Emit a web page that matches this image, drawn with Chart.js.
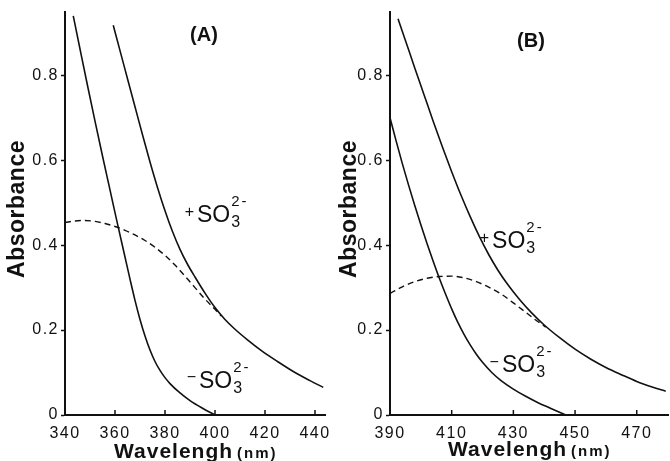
<!DOCTYPE html>
<html lang="en">
<head>
    <meta charset="UTF-8">
    <title>Absorbance spectra (A) and (B)</title>
    <script src="https://cdn.jsdelivr.net/npm/chart.js"></script>
    <style>
        body {
            margin: 0;
            background: #fff;
        }
        #wrap {
            position: relative;
            width: 670px;
            height: 461px;
        }
        canvas {
            position: absolute;
            top: 0;
        }
        #panelA { left: 0; }
        #panelB { left: 335px; }
    </style>
</head>
<body>
<div id="wrap">
    <canvas id="panelA" width="335" height="461"></canvas>
    <canvas id="panelB" width="335" height="461"></canvas>
</div>

<script>
// tick values
const yTicks = [0, 0.2, 0.4, 0.6, 0.8];
const xTicksA = [340, 360, 380, 400, 420, 440];
const xTicksB = [390, 410, 430, 450, 470];

// panel A: -SO3 2-, +SO3 2- and the dashed difference curve
const aMinusWl  = [343.3, 346, 349, 352, 355, 358, 361, 364, 366, 368, 370, 372, 374, 376, 378, 380, 382, 386, 390, 395, 400];
const aMinusAbs = [0.94, 0.862, 0.776, 0.692, 0.61, 0.53, 0.45, 0.372, 0.32, 0.27, 0.225, 0.186, 0.153, 0.126, 0.105, 0.088, 0.074, 0.052, 0.034, 0.016, 0.0];
const aPlusWl   = [359.3, 362, 365, 368, 371, 374, 377, 380, 383, 386, 389, 392, 396, 400, 404, 408, 413, 418.7, 425, 432, 438, 443.3];
const aPlusAbs  = [0.918, 0.858, 0.792, 0.726, 0.66, 0.596, 0.536, 0.481, 0.432, 0.39, 0.355, 0.325, 0.287, 0.253, 0.225, 0.202, 0.177, 0.151, 0.126, 0.1, 0.081, 0.065];
const aDashWl   = [340, 344, 348, 352, 356, 360, 364, 368, 372, 376, 380, 384, 388, 392, 396, 400, 402.5];
const aDashAbs  = [0.453, 0.457, 0.458, 0.456, 0.451, 0.444, 0.435, 0.424, 0.411, 0.395, 0.376, 0.353, 0.327, 0.30, 0.273, 0.249, 0.233];

// panel B
const bMinusWl  = [390, 392, 394, 396, 398, 400, 402, 404, 406, 408, 410, 412, 414, 416, 418, 420, 423, 426, 430, 434, 438, 442, 447];
const bMinusAbs = [0.70, 0.645, 0.592, 0.542, 0.494, 0.448, 0.404, 0.362, 0.322, 0.285, 0.25, 0.218, 0.19, 0.165, 0.143, 0.124, 0.10, 0.081, 0.061, 0.044, 0.029, 0.016, 0.0];
const bPlusWl   = [392.6, 395, 398, 401, 404, 407, 410, 413, 416, 419, 422, 425, 428, 432, 436, 440, 445, 450, 455, 460, 465, 470, 475, 479.4];
const bPlusAbs  = [0.933, 0.882, 0.818, 0.755, 0.692, 0.631, 0.573, 0.518, 0.467, 0.42, 0.378, 0.341, 0.309, 0.272, 0.24, 0.212, 0.182, 0.155, 0.132, 0.112, 0.095, 0.079, 0.066, 0.056];
const bDashWl   = [390, 394, 398, 402, 406, 410, 414, 418, 422, 426, 430, 434, 437, 440.5];
const bDashAbs  = [0.286, 0.302, 0.314, 0.322, 0.326, 0.327, 0.323, 0.314, 0.301, 0.285, 0.264, 0.242, 0.225, 0.207];

const FONT = "'Liberation Sans', Arial, sans-serif";
const INK = '#111';

function pts(xs, ys) {
    return xs.map((x, i) => ({ x: x, y: ys[i] }));
}

function line(xs, ys, dashed) {
    return {
        data: pts(xs, ys),
        borderColor: INK,
        borderWidth: dashed ? 1.4 : 1.6,
        borderDash: dashed ? [6, 4] : [],
        pointRadius: 0,
        fill: false,
        cubicInterpolationMode: 'monotone'
    };
}

// SO3 2- label with sign, subscript and superscript
function drawIon(ctx, sign, px, py) {
    ctx.textAlign = 'left';
    ctx.textBaseline = 'alphabetic';
    ctx.letterSpacing = '0px';
    ctx.font = '23px ' + FONT;
    ctx.fillText('SO', px, py);
    const w = ctx.measureText('SO').width;
    ctx.font = '16px ' + FONT;
    ctx.fillText('3', px + w + 1, py + 5);
    ctx.letterSpacing = '2px';
    ctx.font = '15px ' + FONT;
    ctx.fillText('2-', px + w + 1, py - 16);
    ctx.letterSpacing = '0px';
    ctx.font = '16px ' + FONT;
    ctx.textAlign = 'right';
    ctx.textBaseline = 'middle';
    ctx.fillText(sign, px - 3, py - 10);
}

const panelText = {
    id: 'panelText',
    beforeDraw(chart) {
        chart.ctx.letterSpacing = '1.5px'; // tick labels are widely spaced in the scan
    },
    afterDraw(chart, args, opts) {
        const ctx = chart.ctx;
        const xs = chart.scales.x, ys = chart.scales.y;
        ctx.save();
        ctx.fillStyle = INK;
        ctx.strokeStyle = INK;

        // wavelength ticks point into the plot
        ctx.lineWidth = 1.5;
        xs.ticks.forEach(t => {
            const px = xs.getPixelForValue(t.value);
            ctx.beginPath();
            ctx.moveTo(px, ys.bottom);
            ctx.lineTo(px, ys.bottom - 5);
            ctx.stroke();
        });

        // panel letter
        ctx.letterSpacing = '0px';
        ctx.font = 'bold 20px ' + FONT;
        ctx.textAlign = 'center';
        ctx.textBaseline = 'middle';
        ctx.fillText(opts.letter, opts.letterX, opts.letterY);

        // y title
        ctx.save();
        ctx.translate(opts.yTitleX, 209);
        ctx.rotate(-Math.PI / 2);
        ctx.letterSpacing = '0.5px';
        ctx.font = 'bold 23px ' + FONT;
        ctx.fillText('Absorbance', 0, 0);
        ctx.restore();

        // x title
        ctx.textAlign = 'left';
        ctx.textBaseline = 'alphabetic';
        ctx.letterSpacing = '1px';
        ctx.font = 'bold 21px ' + FONT;
        ctx.fillText('Wavelengh', opts.xTitleX, opts.xTitleY);
        const tw = ctx.measureText('Wavelengh').width;
        ctx.letterSpacing = '2px';
        ctx.font = 'bold 15px ' + FONT;
        ctx.fillText('(nm)', opts.xTitleX + tw + 4, opts.xTitleY);

        opts.ions.forEach(ion => {
            drawIon(ctx, ion.sign, xs.getPixelForValue(ion.x), ys.getPixelForValue(ion.y));
        });
        ctx.restore();
        ctx.letterSpacing = '0px';
    }
};

function makePanel(id, curves, xMin, xMax, xTicks, yWidth, padRight, text) {
    return new Chart(document.getElementById(id), {
        type: 'line',
        data: { datasets: curves },
        options: {
            responsive: false,
            animation: false,
            devicePixelRatio: 1,
            layout: { padding: { left: 0, right: padRight, top: 11, bottom: 0 } },
            plugins: {
                legend: { display: false },
                tooltip: { enabled: false },
                panelText: text
            },
            scales: {
                x: {
                    type: 'linear',
                    min: xMin,
                    max: xMax,
                    afterBuildTicks: s => { s.ticks = xTicks.map(v => ({ value: v })); },
                    afterFit: s => { s.height = 46; },
                    grid: { display: false },
                    border: { display: true, color: INK, width: 2 },
                    ticks: {
                        color: INK,
                        padding: 1,
                        maxRotation: 0,
                        autoSkip: false,
                        font: { family: FONT, size: 16 },
                        callback: v => String(v)
                    }
                },
                y: {
                    type: 'linear',
                    min: 0,
                    max: 0.95,
                    afterBuildTicks: s => { s.ticks = yTicks.map(v => ({ value: v })); },
                    afterFit: s => { s.width = yWidth; },
                    grid: {
                        display: true,
                        drawOnChartArea: false,
                        drawTicks: true,
                        tickLength: 4,
                        tickColor: INK,
                        tickWidth: 1.5
                    },
                    border: { display: true, color: INK, width: 2 },
                    ticks: {
                        color: INK,
                        padding: 2,
                        font: { family: FONT, size: 16 },
                        callback: v => v === 0 ? '0' : v.toFixed(1)
                    }
                }
            }
        },
        plugins: [panelText]
    });
}

makePanel('panelA',
    [line(aMinusWl, aMinusAbs, false), line(aPlusWl, aPlusAbs, false), line(aDashWl, aDashAbs, true)],
    340, 444, xTicksA, 65, 10,
    {
        letter: '(A)', letterX: 204, letterY: 35,
        yTitleX: 18, xTitleX: 114, xTitleY: 458,
        ions: [
            { sign: '+', x: 392.8, y: 0.454 },
            { sign: '\u2212', x: 393.6, y: 0.0635 }
        ]
    });

makePanel('panelB',
    [line(bMinusWl, bMinusAbs, false), line(bPlusWl, bPlusAbs, false), line(bDashWl, bDashAbs, true)],
    390, 480.3, xTicksB, 55, 1.5,
    {
        letter: '(B)', letterX: 196, letterY: 41,
        yTitleX: 15, xTitleX: 113, xTitleY: 456,
        ions: [
            { sign: '+', x: 423.1, y: 0.393 },
            { sign: '\u2212', x: 426.3, y: 0.101 }
        ]
    });
</script>
</body>
</html>
